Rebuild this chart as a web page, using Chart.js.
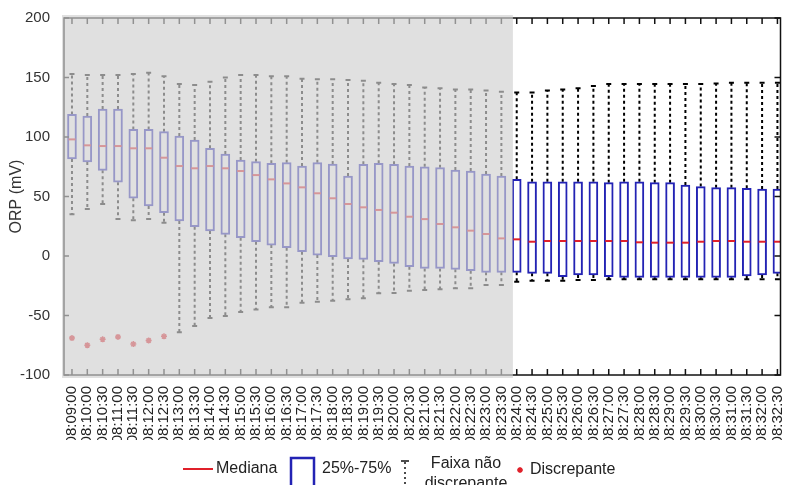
<!DOCTYPE html>
<html lang="pt">
<head>
<meta charset="UTF-8">
<title>ORP box plot</title>
<style>
  html, body { margin: 0; padding: 0; background: #fff; }
  #chart { display: block; }
</style>
</head>
<body>
<canvas id="chart" width="786" height="485"></canvas>
<script src="https://cdn.jsdelivr.net/npm/chart.js"></script>
<script>
// categories (08:09:30 is absent in the source)
const xLabels = ['08:09:00',
  '08:10:00','08:10:30','08:11:00','08:11:30','08:12:00','08:12:30','08:13:00','08:13:30',
  '08:14:00','08:14:30','08:15:00','08:15:30','08:16:00','08:16:30','08:17:00','08:17:30',
  '08:18:00','08:18:30','08:19:00','08:19:30','08:20:00','08:20:30','08:21:00','08:21:30',
  '08:22:00','08:22:30','08:23:00','08:23:30','08:24:00','08:24:30','08:25:00','08:25:30',
  '08:26:00','08:26:30','08:27:00','08:27:30','08:28:00','08:28:30','08:29:00','08:29:30',
  '08:30:00','08:30:30','08:31:00','08:31:30','08:32:00','08:32:30'];

// upper whisker end
const whiskerHigh = [153,152,152,152,153,154,151,144.5,143.7,146.5,150,152,152,151,151,149,
  148.5,148.5,148,147.3,145.6,144.5,143.7,141.7,140.9,140,140,139,138,137.5,137.5,139,
  140,141,142.9,144.5,144.5,144.5,144.5,144.5,144.5,144.5,145,145.6,145.6,145.6,145.6];
// 75th percentile
const q3 = [119,117.6,123.5,123.5,106.4,106.4,104.5,100.8,97.5,90.5,85.7,80.7,79.3,77.9,78.4,75.6,
  78.4,77.3,67.2,77,77.9,77,75.6,75,74.2,72.3,71.4,68.9,67.2,64.4,62.4,62.4,
  62.4,62.4,62.4,61.6,62.4,62.4,61.6,61.6,59.7,58.3,57.4,57.4,56.9,56.3,56.3];
// median
const median = [98,93,92.4,92.4,90.5,90.5,82.6,75.6,73.7,75.6,73.7,71.4,68,64.4,61,57.7,
  52.7,48.5,43.7,40.9,38.7,36.4,33,31,26.9,24.1,21.3,18.5,14.8,14,12,12.6,
  12.6,12.6,12.6,12.6,12.6,11.5,11.2,11.2,11.2,12,12.6,12.6,12,12,12];
// 25th percentile
const q1 = [81.5,79,72,62,48.5,42,36.4,29.4,24.6,21,18.2,15.4,12,9.2,7,3.6,
  0.8,-0.6,-2.5,-2.8,-4.8,-6.2,-9,-10.4,-10.4,-11.2,-12.3,-13.7,-13.7,-13.7,-14.6,-14.6,
  -17.4,-16,-16,-17.4,-17.9,-17.9,-17.9,-17.9,-17.9,-17.9,-17.9,-17.9,-16.8,-16,-14.6];
// lower whisker end
const whiskerLow = [35,39.5,43.7,31,30,31,28,-64,-58.8,-52,-50.4,-47,-45,-43,-43,-39.2,
  -38.4,-37.5,-36.4,-35.6,-31.4,-31,-29.1,-28.6,-28,-27.2,-27.2,-24.4,-24.4,-21.6,-20.7,-20.7,
  -20.7,-20.2,-20.2,-19.5,-19.5,-19.5,-19.5,-19.5,-19.5,-19.5,-19.5,-19.5,-19.5,-19.5,-19.5];

// outliers
const outlierIndex = [0,1,2,3,4,5,6];
const outlierValue = [-69,-75,-70,-68,-74,-71,-67.5];

const yTicks = [-100,-50,0,50,100,150,200];
const shadeUntil = 28.75; // grey overlay ends between 08:23:30 and 08:24:00

const BLUE = '#2323b4';
const RED = '#e0202a';
const FONT = "'Liberation Sans', Arial, sans-serif";

const boxPlot = {
  id: 'boxPlot',
  beforeDatasetsDraw(chart) {
    const ctx = chart.ctx, x = chart.scales.x, y = chart.scales.y;
    ctx.save();
    ctx.strokeStyle = '#000';
    ctx.lineWidth = 2;
    xLabels.forEach((lab, i) => {
      const px = x.getPixelForValue(i);
      ctx.setLineDash([3, 3]);
      ctx.beginPath();
      ctx.moveTo(px, y.getPixelForValue(q3[i]));
      ctx.lineTo(px, y.getPixelForValue(whiskerHigh[i]));
      ctx.moveTo(px, y.getPixelForValue(q1[i]));
      ctx.lineTo(px, y.getPixelForValue(whiskerLow[i]));
      ctx.stroke();
      ctx.setLineDash([]);
      ctx.beginPath();
      const hy = y.getPixelForValue(whiskerHigh[i]);
      const ly = y.getPixelForValue(whiskerLow[i]);
      ctx.moveTo(px - 2.5, hy); ctx.lineTo(px + 2.5, hy);
      ctx.moveTo(px - 2.5, ly); ctx.lineTo(px + 2.5, ly);
      ctx.stroke();
    });
    ctx.restore();
  },
  afterDatasetsDraw(chart) {
    const ctx = chart.ctx, x = chart.scales.x, y = chart.scales.y;
    const a = chart.chartArea;
    ctx.save();
    // medians
    ctx.strokeStyle = RED;
    ctx.lineWidth = 2;
    xLabels.forEach((lab, i) => {
      const px = x.getPixelForValue(i), py = y.getPixelForValue(median[i]);
      ctx.beginPath();
      ctx.moveTo(px - 3.5, py); ctx.lineTo(px + 3.5, py);
      ctx.stroke();
    });
    // frame with inward ticks
    ctx.strokeStyle = '#111';
    ctx.lineWidth = 1.5;
    ctx.strokeRect(a.left, a.top, a.right - a.left, a.bottom - a.top);
    ctx.beginPath();
    yTicks.forEach(v => {
      const py = y.getPixelForValue(v);
      ctx.moveTo(a.left, py); ctx.lineTo(a.left + 5, py);
      ctx.moveTo(a.right, py); ctx.lineTo(a.right - 6, py);
    });
    xLabels.forEach((lab, i) => {
      const px = x.getPixelForValue(i);
      ctx.moveTo(px, a.top); ctx.lineTo(px, a.top + 6);
      ctx.moveTo(px, a.bottom); ctx.lineTo(px, a.bottom - 6);
    });
    ctx.stroke();
    // faded grey overlay on the earlier period
    const sx = x.getPixelForValue(shadeUntil);
    ctx.fillStyle = 'rgba(209,209,209,0.67)';
    ctx.fillRect(a.left - 2, a.top - 3, sx - a.left + 2, a.bottom - a.top + 6);
    ctx.restore();
  },
  afterDraw(chart) {
    const ctx = chart.ctx;
    ctx.save();
    ctx.font = '16px ' + FONT;
    ctx.fillStyle = '#222';
    ctx.textBaseline = 'middle';
    // Mediana
    ctx.strokeStyle = RED; ctx.lineWidth = 2;
    ctx.beginPath(); ctx.moveTo(183, 469); ctx.lineTo(213, 469); ctx.stroke();
    ctx.fillText('Mediana', 216, 469);
    // 25%-75%
    ctx.strokeStyle = BLUE; ctx.lineWidth = 2.5;
    ctx.strokeRect(291, 458, 23, 40);
    ctx.fillText('25%-75%', 322, 469);
    // whisker
    ctx.strokeStyle = '#111'; ctx.lineWidth = 1.5;
    ctx.beginPath(); ctx.moveTo(401, 461); ctx.lineTo(409, 461); ctx.stroke();
    ctx.setLineDash([2, 3]);
    ctx.beginPath(); ctx.moveTo(405, 462); ctx.lineTo(405, 486); ctx.stroke();
    ctx.setLineDash([]);
    ctx.textAlign = 'center';
    ctx.fillText('Faixa não', 466, 464);
    ctx.fillText('discrepante', 466, 484);
    ctx.textAlign = 'left';
    // Discrepante
    ctx.strokeStyle = RED; ctx.lineWidth = 1.5;
    ctx.beginPath();
    ctx.moveTo(517, 470); ctx.lineTo(523, 470);
    ctx.moveTo(520, 467); ctx.lineTo(520, 473);
    ctx.moveTo(518, 468); ctx.lineTo(522, 472);
    ctx.moveTo(522, 468); ctx.lineTo(518, 472);
    ctx.stroke();
    ctx.fillText('Discrepante', 530, 470);
    ctx.restore();
  }
};

const ctx = document.getElementById('chart').getContext('2d');
new Chart(ctx, {
  type: 'bar',
  data: {
    datasets: [
      {
        type: 'bar',
        data: xLabels.map((lab, i) => ({ x: i, y: [q1[i], q3[i]] })),
        backgroundColor: '#fff',
        borderColor: BLUE,
        borderWidth: 2,
        borderSkipped: false,
        barThickness: 9,
        order: 2
      },
      {
        type: 'scatter',
        data: outlierIndex.map((idx, k) => ({ x: idx, y: outlierValue[k] })),
        pointStyle: 'star',
        radius: 3,
        borderColor: RED,
        backgroundColor: RED,
        borderWidth: 1.5,
        order: 1
      }
    ]
  },
  options: {
    responsive: false,
    animation: false,
    layout: { padding: { top: 18, right: 3, bottom: 45, left: 0 } },
    plugins: { legend: { display: false }, tooltip: { enabled: false } },
    scales: {
      x: {
        type: 'linear',
        min: -0.52,
        max: 46.2,
        offset: false,
        grid: { display: false },
        border: { display: false },
        afterBuildTicks: s => { s.ticks = xLabels.map((lab, i) => ({ value: i })); },
        afterFit: s => { s.height = 65; s.paddingLeft = 0; s.paddingRight = 0; },
        ticks: {
          autoSkip: false,
          minRotation: 90,
          maxRotation: 90,
          padding: 3,
          color: '#222',
          font: { family: FONT, size: 15 },
          callback: v => xLabels[v]
        }
      },
      y: {
        min: -100,
        max: 200,
        grid: { display: false },
        border: { display: false },
        afterFit: s => { s.width = 64; s.paddingTop = 0; s.paddingBottom = 0; },
        ticks: { stepSize: 50, padding: 6, color: '#333', font: { family: FONT, size: 15 } },
        title: {
          display: true,
          text: 'ORP (mV)',
          color: '#333',
          font: { family: FONT, size: 16 },
          padding: { top: 7, bottom: 0 }
        }
      }
    }
  },
  plugins: [boxPlot]
});
</script>
</body>
</html>
